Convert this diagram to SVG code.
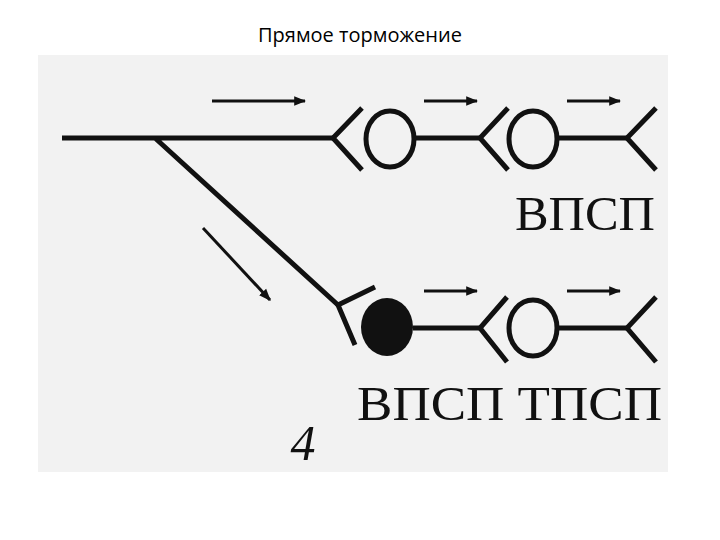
<svg xmlns="http://www.w3.org/2000/svg" width="720" height="540" viewBox="0 0 720 540">
<defs>
<style>
.l{stroke:#111;stroke-width:5;fill:none;stroke-linecap:butt}
.a{stroke:#111;stroke-width:3;fill:none}
.t{font-family:"Liberation Serif",serif;fill:#111}
</style>
<marker id="ah" viewBox="0 0 10 10" refX="9" refY="5" markerWidth="4" markerHeight="4" orient="auto"><path d="M0,1 L10,5 L0,9 z" fill="#111"/></marker>
</defs>
<rect width="720" height="540" fill="#fff"/>
<rect x="38" y="55" width="630" height="417" fill="#f2f2f2"/>
<text x="360" y="42" text-anchor="middle" font-family="Open Sans, sans-serif" font-size="20" fill="#000">Прямое торможение</text>
<g id="connectors">
<path class="l" d="M62,138 H333 M155,138 L338,305 M415,138 H480 M558,138 H627 M413,328 H480 M558,328 H627"/>
<path class="a" marker-end="url(#ah)" d="M212,101 H305"/>
<path class="a" marker-end="url(#ah)" d="M424,101 H477"/>
<path class="a" marker-end="url(#ah)" d="M567,101 H620"/>
<path class="a" marker-end="url(#ah)" d="M424,291 H477"/>
<path class="a" marker-end="url(#ah)" d="M567,291 H620"/>
<path class="a" marker-end="url(#ah)" d="M203,228 L270,300"/>
</g>
<g id="top1"><path class="l" d="M362,108 L333,138 L362,170"/><ellipse class="l" cx="390" cy="139" rx="24" ry="28"/></g>
<g id="top2"><path class="l" d="M508,108 L480,138 L508,170"/><ellipse class="l" cx="533" cy="139" rx="24" ry="28"/></g>
<g id="top3"><path class="l" d="M656,108 L627,138 L656,170"/></g>
<g id="bot1"><path class="l" d="M375,287 L338,305 L355,345"/><ellipse cx="387" cy="327" rx="26" ry="29" fill="#111"/></g>
<g id="bot2"><path class="l" d="M507,297 L480,328 L507,362"/><ellipse class="l" cx="533" cy="328" rx="24" ry="28"/></g>
<g id="bot3"><path class="l" d="M656,297 L627,328 L656,362"/></g>
<text class="t" x="515" y="230" font-size="48" textLength="140" lengthAdjust="spacingAndGlyphs">ВПСП</text>
<text class="t" x="357" y="420" font-size="48" textLength="305" lengthAdjust="spacingAndGlyphs">ВПСП ТПСП</text>
<text class="t" x="303" y="460" text-anchor="middle" font-size="50" font-style="italic">4</text>
</svg>
